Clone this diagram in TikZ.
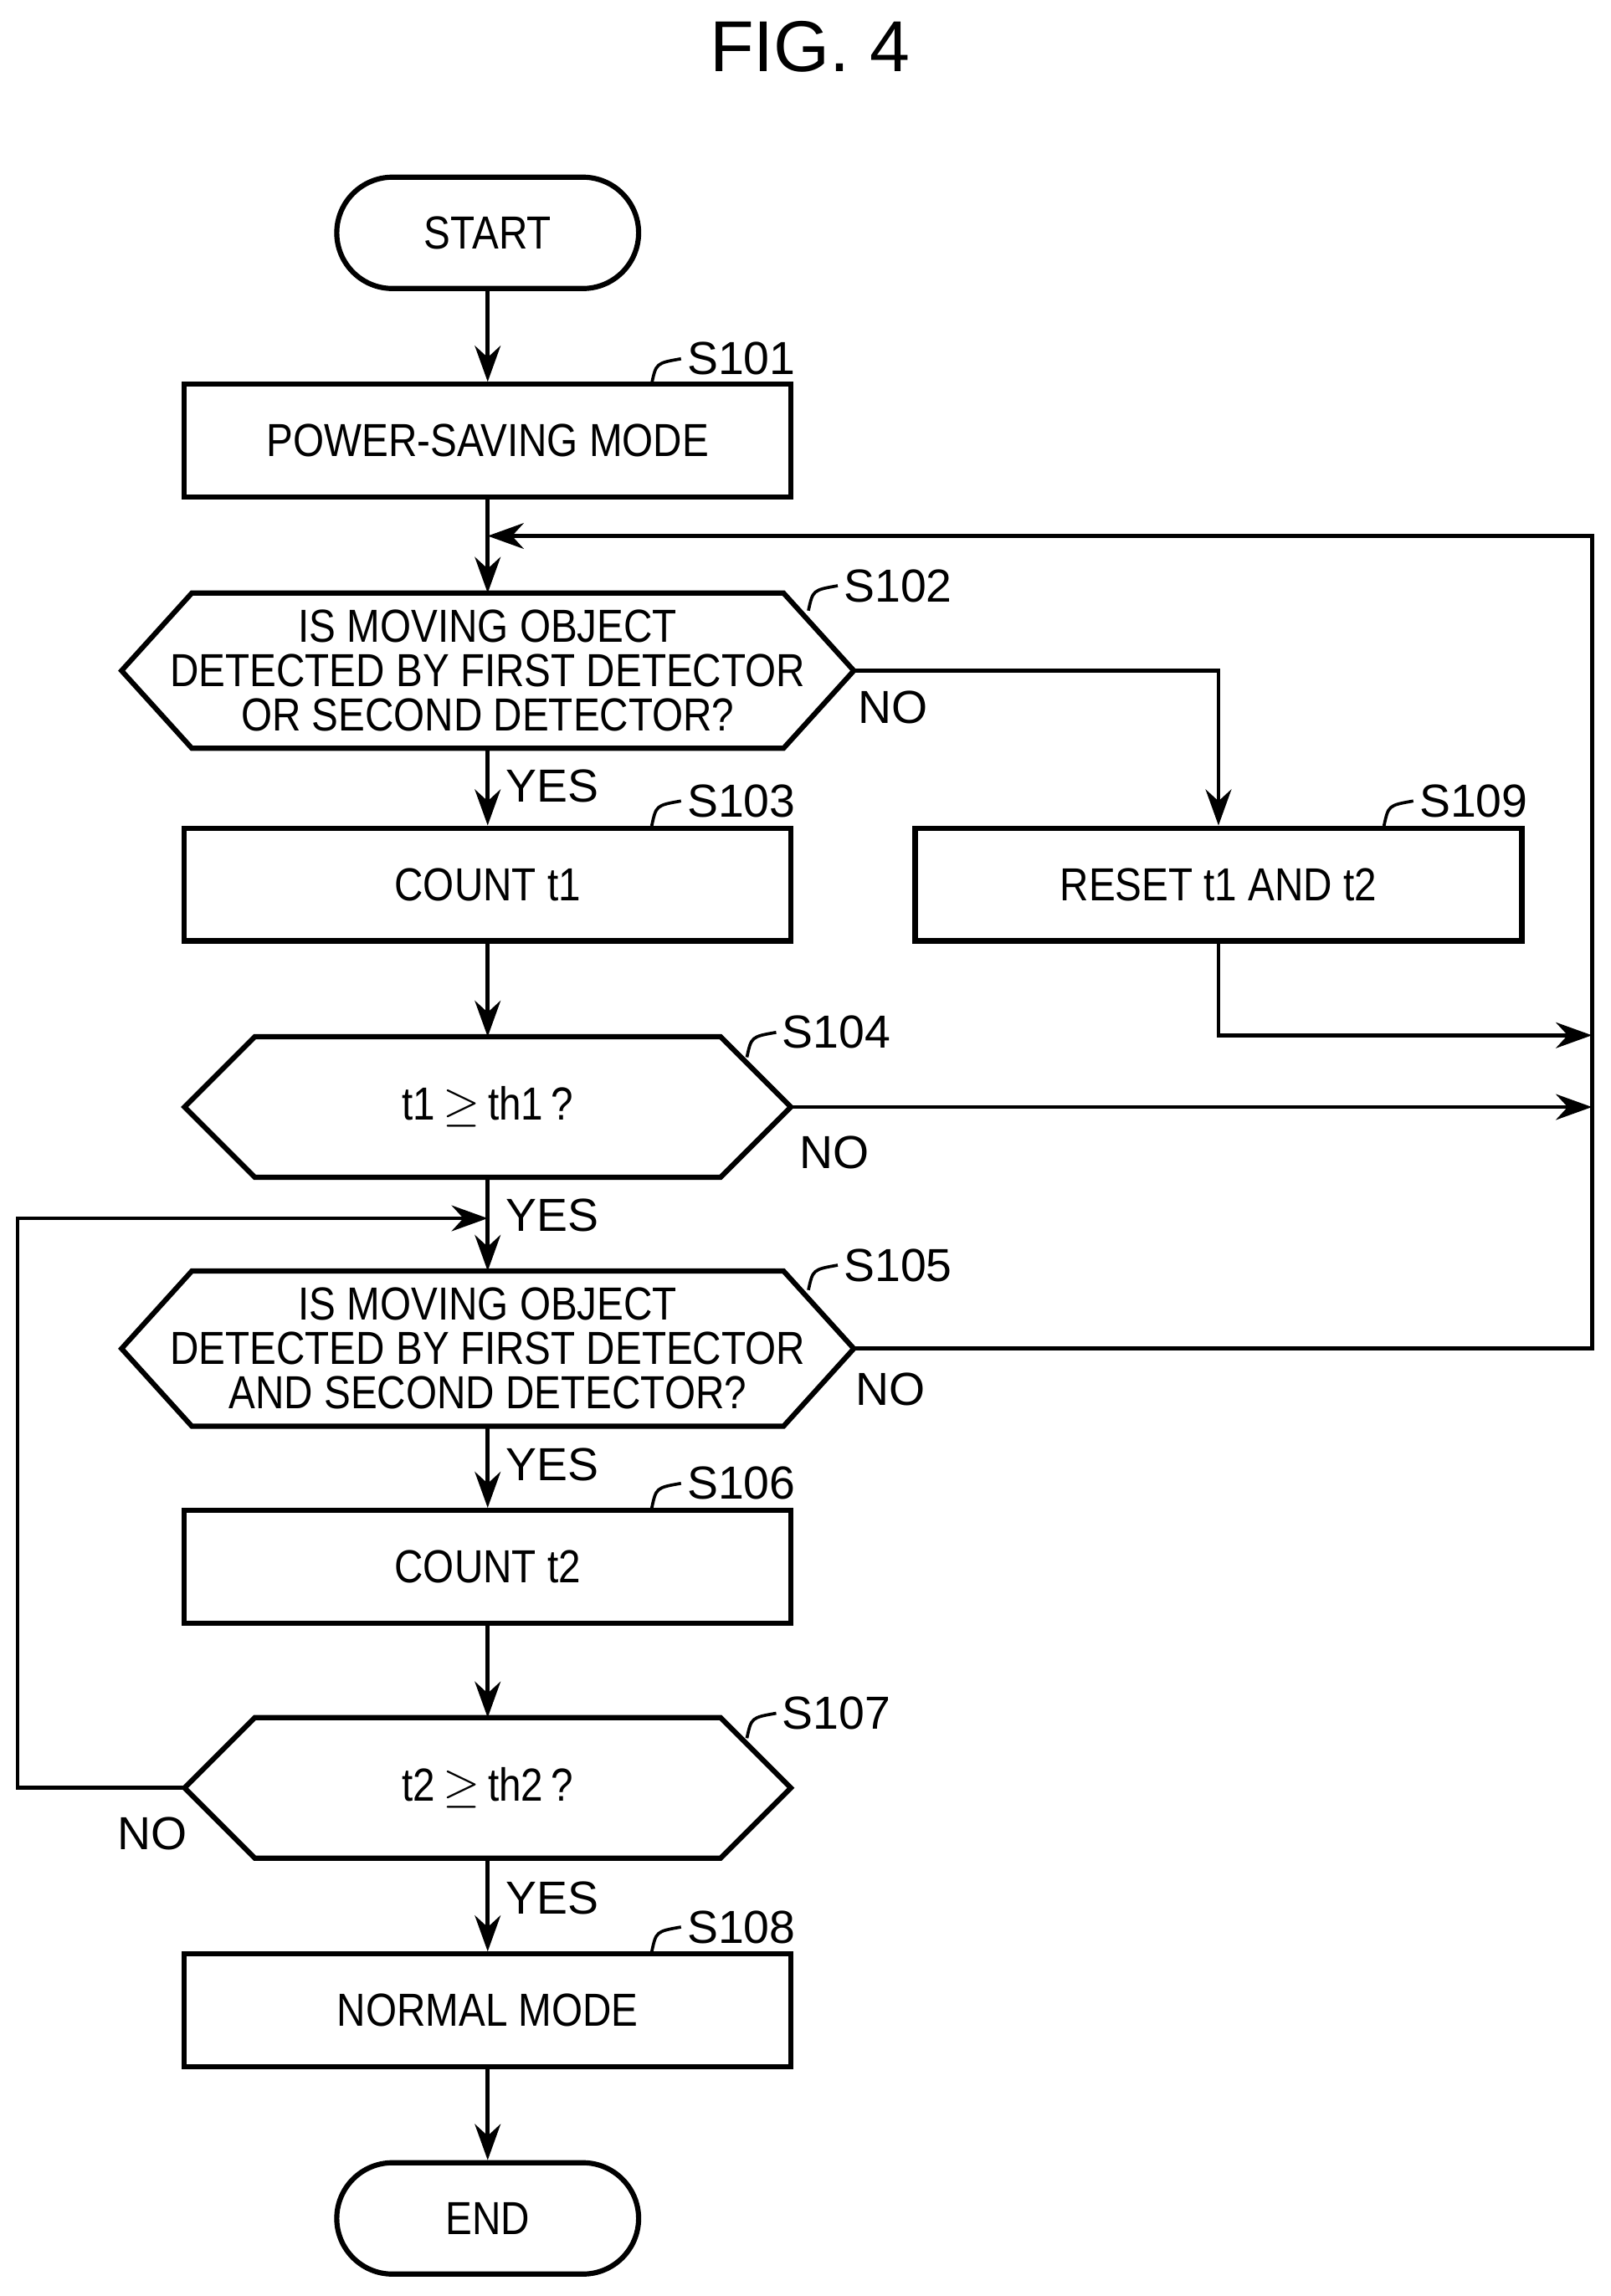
\documentclass[tikz,border=0pt]{standalone}
\usepackage{fontspec}
\setmainfont{Liberation Sans}
\newfontfamily\narrowfont[FakeStretch=0.86]{Liberation Sans}
\usetikzlibrary{arrows.meta,calc}
\newcommand\txt{\narrowfont\fontsize{9}{8.6}\selectfont}
\newcommand\decision[6]{%
  \node[cond] (#1) at (#2,#3) {#6};
  \coordinate (#1-l) at (#2-#4,#3);
  \coordinate (#1-r) at (#2+#4,#3);
  \coordinate (#1-t) at (#2,#3-#5);
  \coordinate (#1-b) at (#2,#3+#5);
  \draw[shape line] (#1-l) -- (#2-#4+48,#3-#5) -- (#2+#4-48,#3-#5) -- (#1-r)
    -- (#2+#4-48,#3+#5) -- (#2-#4+48,#3+#5) -- cycle;}
\newcommand\step[3]{%
  \draw[line width=0.6pt] (#1,#2+17) .. controls (#1+3,#2+3) .. (#1+20,#2);
  \node[anchor=west,font=\fontsize{9}{10}\selectfont,inner sep=1pt] at (#1+20,#2) {#3};}
\begin{document}
\begin{tikzpicture}[x=0.01cm,y=-0.01cm,
    shape line/.style={line width=1pt},
    box/.style={draw,line width=1pt,minimum width=4.14cm,minimum height=0.77cm,inner sep=0pt,font=\txt},
    term/.style={draw,line width=1pt,rounded corners=0.38cm,minimum width=2.06cm,minimum height=0.76cm,font=\txt},
    cond/.style={align=center,inner sep=0pt,font=\txt},
    arr/.style={line width=0.8pt,-{Stealth[length=7pt,width=5pt]}},
    ln/.style={line width=0.8pt},
    yn/.style={font=\fontsize{9}{10}\selectfont,inner sep=1pt}]
\useasboundingbox (0,0) rectangle (1100,1568);
\node[font=\fontsize{14}{16}\selectfont] (title) at (553,32) {FIG. 4};
% nodes
\node[term] (start) at (333,159) {START};
\node[box] (s101) at (333,301) {POWER-SAVING MODE};
\decision{s102}{333}{458}{250}{53}{IS MOVING OBJECT\\DETECTED BY FIRST DETECTOR\\OR SECOND DETECTOR?}
\node[box] (s103) at (333,604) {COUNT t1};
\node[box] (s109) at (832,604) {RESET t1 AND t2};
\decision{s104}{333}{756}{207}{48}{t1\,$\geq$\,th1\,?}
\decision{s105}{333}{921}{250}{53}{IS MOVING OBJECT\\DETECTED BY FIRST DETECTOR\\AND SECOND DETECTOR?}
\node[box] (s106) at (333,1070) {COUNT t2};
\decision{s107}{333}{1221}{207}{48}{t2\,$\geq$\,th2\,?}
\node[box] (s108) at (333,1373) {NORMAL MODE};
\node[term] (end) at (333,1515) {END};
% step labels
\step{445}{245}{S101}
\step{552}{400}{S102}
\step{445}{547}{S103}
\step{945}{547}{S109}
\step{510}{705}{S104}
\step{552}{864}{S105}
\step{445}{1013}{S106}
\step{510}{1170}{S107}
\step{445}{1316}{S108}
% connectors
\coordinate (fb) at (333,366);
\coordinate (back) at (1087,366);
\coordinate (j1) at (1087,707);
\coordinate (j2) at (1087,756);
\coordinate (loop) at (333,832);
\coordinate (lft) at (12,1221);
\draw[arr] (start) -- (s101);
\draw[arr] (s101) -- (s102-t);
\draw[arr] (s105-r) -| (back) -- (fb);
\draw[arr] (s102-r) -| (s109.north);
\draw[arr] (s102-b) -- (s103);
\draw[arr] (s103) -- (s104-t);
\draw[arr] (s109.south) |- (j1);
\draw[arr] (s104-r) -- (j2);
\draw[arr] (s104-b) -- (s105-t);
\draw[arr] (s107-l) -- (lft) |- (loop);
\draw[arr] (s105-b) -- (s106);
\draw[arr] (s106) -- (s107-t);
\draw[arr] (s107-b) -- (s108);
\draw[arr] (s108) -- (end);
% yes / no
\node[yn] at (377,537) {YES};
\node[yn] at (610,483) {NO};
\node[yn] at (570,787) {NO};
\node[yn] at (377,830) {YES};
\node[yn] at (608,949) {NO};
\node[yn] at (377,1000) {YES};
\node[yn] at (104,1252) {NO};
\node[yn] at (377,1296) {YES};
\end{tikzpicture}
\end{document}
